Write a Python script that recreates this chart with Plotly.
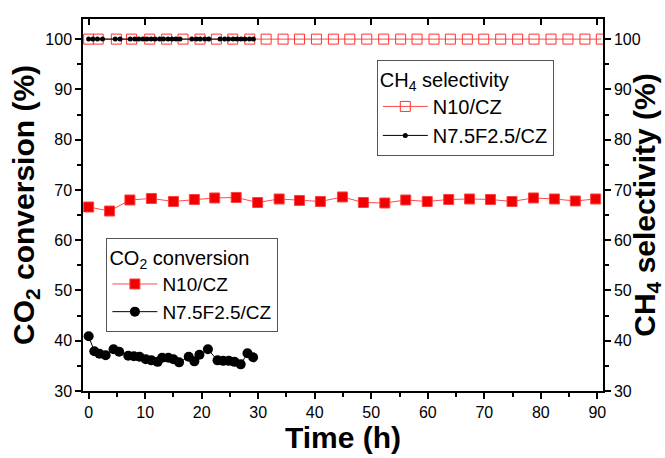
import plotly.graph_objects as go

# CO2 conversion, N10/CZ (filled red squares)
t_n10_co2 = [0, 3.7, 7.3, 11.1, 15.0, 18.7, 22.3, 26.1, 29.9, 33.7, 37.3, 41.0, 44.9,
             48.6, 52.4, 56.1, 59.9, 63.7, 67.4, 71.1, 74.9, 78.7, 82.4, 86.1, 89.7]
v_n10_co2 = [66.6, 65.8, 68.0, 68.3, 67.7, 68.1, 68.4, 68.5, 67.5, 68.2, 67.9, 67.7, 68.6,
             67.5, 67.4, 68.0, 67.7, 68.1, 68.2, 68.1, 67.7, 68.4, 68.2, 67.8, 68.2]

# CO2 conversion, N7.5F2.5/CZ (black circles)
t_nf_co2 = [0, 1.0, 1.9, 3.0, 4.4, 5.4, 7.0, 8.0, 9.0, 10.1, 11.1, 12.2, 13.0, 14.1,
            15.0, 16.0, 17.7, 18.7, 19.6, 21.1, 22.8, 23.8, 24.8, 25.8, 26.9, 28.1, 29.1]
v_nf_co2 = [40.9, 37.9, 37.4, 37.1, 38.3, 37.8, 37.0, 36.9, 36.8, 36.3, 36.1, 35.8, 36.6, 36.6,
            36.3, 35.7, 36.8, 35.9, 37.2, 38.3, 36.1, 36.0, 36.0, 35.8, 35.3, 37.5, 36.7]

# CH4 selectivity, N10/CZ (open red squares)
t_n10_ch4 = [0, 1.7, 4.9, 7.6, 10.8, 13.8, 16.7, 19.7, 22.6, 25.5, 28.5, 31.4, 34.4, 37.3,
             40.3, 43.3, 46.2, 49.2, 52.2, 55.2, 58.1, 61.1, 64.0, 67.0, 69.9, 72.9,
             75.9, 78.8, 81.8, 84.8, 87.8, 90.7]
v_n10_ch4 = [100] * 32

# CH4 selectivity, N7.5F2.5/CZ (small black dots)
t_nf_ch4 = [0, 0.75, 1.55, 2.45, 4.7, 5.55, 7.35, 8.15, 8.85, 9.6, 10.3, 11.05, 11.75,
            12.55, 13.25, 14.05, 14.75, 15.45, 16.15, 18.25, 19.05, 19.75, 20.55, 21.25,
            23.25, 24.05, 24.75, 25.55, 26.25, 26.95, 27.65, 28.45, 29.15]
v_nf_ch4 = [100] * 33

x_ticks = [0, 10, 20, 30, 40, 50, 60, 70, 80, 90]
y_ticks = [30, 40, 50, 60, 70, 80, 90, 100]

FONT = "Liberation Sans, Arial, sans-serif"

fig = go.Figure()

fig.add_trace(go.Scatter(
    x=t_n10_co2, y=v_n10_co2, name="N10/CZ", mode="lines+markers",
    line=dict(color="#ff4a4a", width=1),
    marker=dict(symbol="square", size=10, color="#f00000", line=dict(color="#ff4040", width=1)),
    legend="legend", xaxis="x", yaxis="y"))
fig.add_trace(go.Scatter(
    x=t_nf_co2, y=v_nf_co2, name="N7.5F2.5/CZ", mode="lines+markers",
    line=dict(color="black", width=1),
    marker=dict(symbol="circle", size=10, color="black"),
    legend="legend", xaxis="x", yaxis="y"))
fig.add_trace(go.Scatter(
    x=t_n10_ch4, y=v_n10_ch4, name="N10/CZ", mode="lines+markers",
    line=dict(color="#ff4a4a", width=1),
    marker=dict(symbol="square-open", size=10, color="#ff3030", line=dict(width=1)),
    legend="legend2", xaxis="x2", yaxis="y2"))
fig.add_trace(go.Scatter(
    x=t_nf_ch4, y=v_nf_ch4, name="N7.5F2.5/CZ", mode="lines+markers",
    line=dict(color="black", width=1),
    marker=dict(symbol="circle", size=5, color="black"),
    legend="legend2", xaxis="x2", yaxis="y2"))

axis_common = dict(showgrid=False, zeroline=False, showline=True, linecolor="black",
                   linewidth=1.5, tickcolor="black", tickwidth=1.5, automargin=False,
                   tickfont=dict(family=FONT, size=16, color="black"))
minor_ticks = dict(dtick=5, tick0=0, ticks="outside", ticklen=4, tickcolor="black", tickwidth=1.5)
title_font = dict(family=FONT, size=30, color="black")

fig.update_layout(
    width=665, height=458,
    margin=dict(l=83, r=62, t=19, b=67),
    paper_bgcolor="white", plot_bgcolor="white",
    font=dict(family=FONT, color="black"),
    xaxis=dict(**axis_common, range=[-1, 91], tickvals=x_ticks, ticks="outside", ticklen=6,
               minor=minor_ticks,
               title=dict(text="<b>Time (h)</b>", font=title_font, standoff=6)),
    xaxis2=dict(**axis_common, range=[-1, 91], tickvals=x_ticks, ticks="inside", ticklen=6,
                overlaying="x", side="top", showticklabels=False),
    yaxis=dict(**axis_common, range=[30, 104], tickvals=y_ticks, ticks="outside", ticklen=6,
               minor=minor_ticks,
               title=dict(text="<b>CO<sub>2</sub> conversion (%)</b>", font=title_font, standoff=2)),
    yaxis2=dict(**axis_common, range=[30, 104], tickvals=y_ticks, ticks="outside", ticklen=6,
                overlaying="y", side="right", anchor="x2",
                minor=minor_ticks,
                title=dict(text="<b>CH<sub>4</sub> selectivity (%)</b>", font=title_font, standoff=2)),
    legend=dict(x=0.045, y=0.411, xanchor="left", yanchor="top",
                bgcolor="white", bordercolor="#555555", borderwidth=1,
                font=dict(family=FONT, size=19, color="black"),
                title=dict(text="CO<sub>2</sub> conversion", font=dict(family=FONT, size=20)),
                itemwidth=45, tracegroupgap=0),
    legend2=dict(x=0.565, y=0.89, xanchor="left", yanchor="top",
                 bgcolor="white", bordercolor="#555555", borderwidth=1,
                 font=dict(family=FONT, size=20, color="black"),
                 title=dict(text="CH<sub>4</sub> selectivity", font=dict(family=FONT, size=20)),
                 itemwidth=45, tracegroupgap=0),
    showlegend=True,
)

fig.write_html("out.html", config={"displayModeBar": False},
               post_script="document.body.style.margin='0';")
